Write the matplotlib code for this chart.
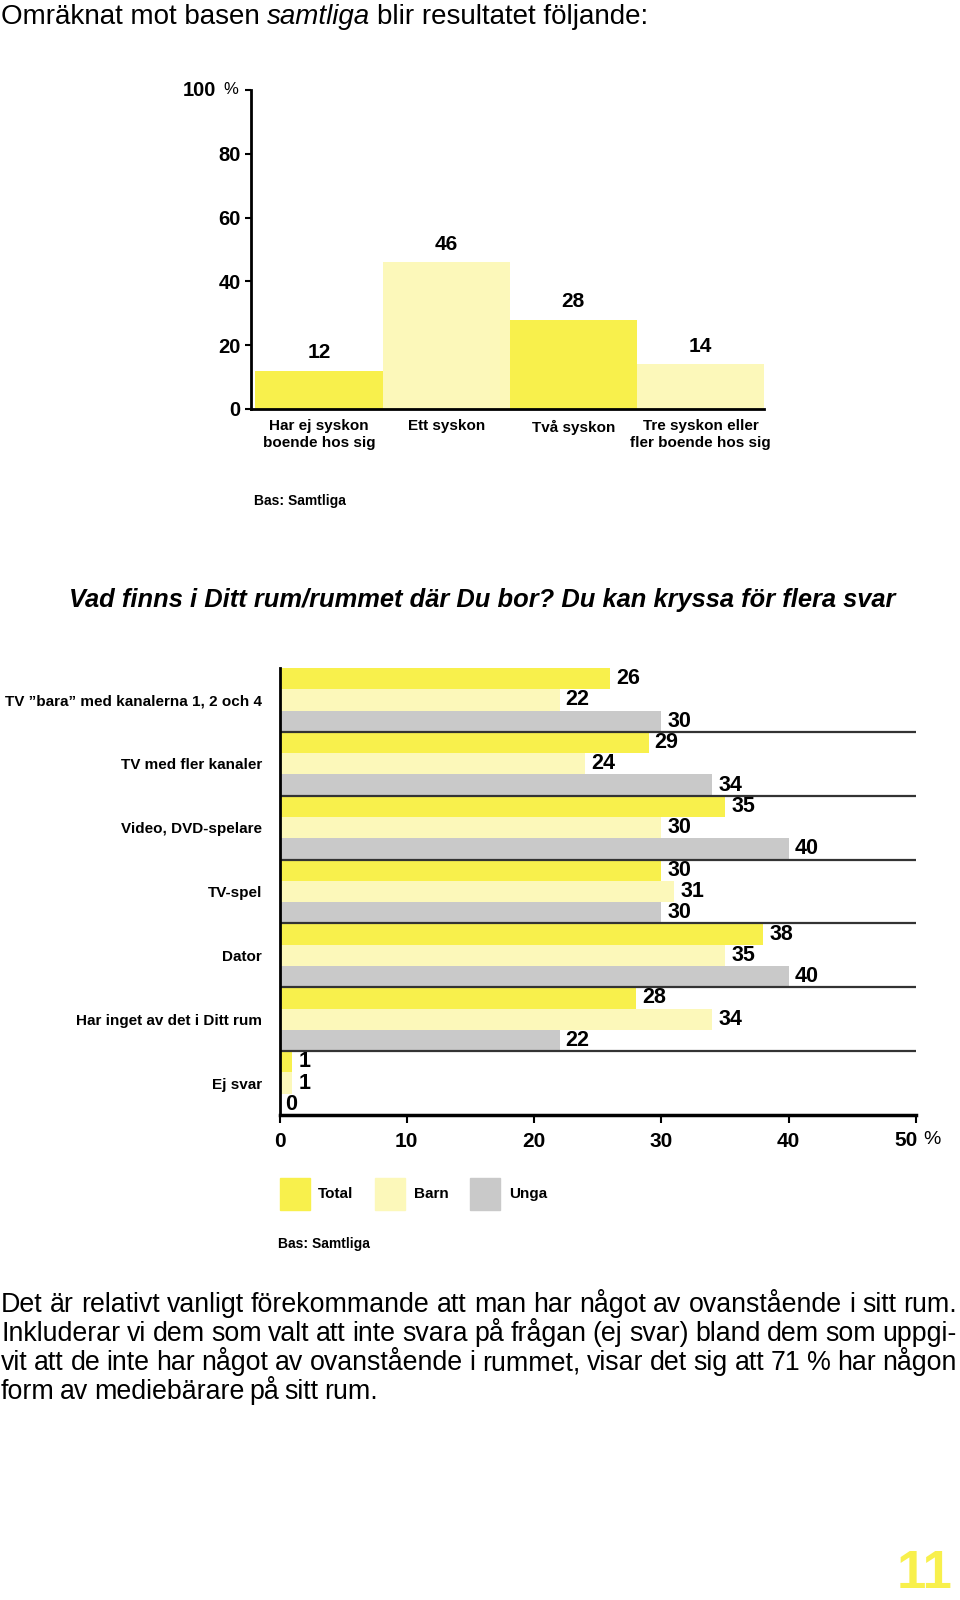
import matplotlib
matplotlib.use('Agg')
import matplotlib.pyplot as plt
from matplotlib.patches import Rectangle
from matplotlib.transforms import offset_copy

plt.rcParams['font.family'] = ['Liberation Sans', 'DejaVu Sans']

# --- data -------------------------------------------------------------
sib_labels = ['Har ej syskon\nboende hos sig', 'Ett syskon', 'Två syskon',
              'Tre syskon eller\nfler boende hos sig']
sib_values = [12, 46, 28, 14]
sib_ticks = [0, 20, 40, 60, 80, 100]

items = ['TV ”bara” med kanalerna 1, 2 och 4', 'TV med fler kanaler',
         'Video, DVD-spelare', 'TV-spel', 'Dator',
         'Har inget av det i Ditt rum', 'Ej svar']
total = [26, 29, 35, 30, 38, 28, 1]
barn = [22, 24, 30, 31, 35, 34, 1]
unga = [30, 34, 40, 30, 40, 22, 0]
series_names = ['Total', 'Barn', 'Unga']
room_ticks = [0, 10, 20, 30, 40, 50]

header = ['Omräknat mot basen', 'samtliga', 'blir resultatet följande:']
question = 'Vad finns i Ditt rum/rummet där Du bor? Du kan kryssa för flera svar'
base_note = 'Bas: Samtliga'
body_lines = [
    'Det är relativt vanligt förekommande att man har något av ovanstående i sitt rum.',
    'Inkluderar vi dem som valt att inte svara på frågan (ej svar) bland dem som uppgi-',
    'vit att de inte har något av ovanstående i rummet, visar det sig att 71 % har någon',
    'form av mediebärare på sitt rum.',
]
page_no = '11'

YELLOW = '#F8F04C'
PALE = '#FCF8BA'
GREY = '#C9C9C9'
colors = [YELLOW, PALE, GREY]

W, H = 960, 1600
fig = plt.figure(figsize=(9.6, 16), dpi=100)
renderer = fig.canvas.get_renderer()


def rect(l, t, r, b):
    return [l / W, 1 - b / H, (r - l) / W, (b - t) / H]


def ftext(x, y, s, **kw):
    return fig.text(x / W, 1 - y / H, s, **kw)


def width_px(t):
    return t.get_window_extent(renderer).width


# --- header line with italic word ---------------------------------------
hx = 1
for i, part in enumerate(header):
    t = ftext(hx, 24, part, fontsize=20, va='baseline',
              style='italic' if i == 1 else 'normal')
    hx = t.get_window_extent(renderer).x1 + 7

# --- top chart: siblings ------------------------------------------------
ax1 = fig.add_axes(rect(251, 90, 764, 409))
ax1.bar(range(4), sib_values, width=1, align='edge',
        color=[YELLOW, PALE, YELLOW, PALE])
ax1.set_xlim(-0.035, 4)
ax1.set_ylim(0, 100)
for s in ['top', 'right']:
    ax1.spines[s].set_visible(False)
for s in ['left', 'bottom']:
    ax1.spines[s].set_linewidth(2)
    ax1.spines[s].set_color('black')
ax1.set_yticks(sib_ticks)
ax1.set_yticklabels([str(v) for v in sib_ticks[:-1]] + [''])
ax1.tick_params(axis='y', length=4.5, width=1.5, pad=3, labelsize=14.5)
for lab in ax1.get_yticklabels():
    lab.set_fontweight('bold')
ytr = ax1.get_yaxis_transform()
ax1.text(0, 100, str(sib_ticks[-1]), ha='right', va='center', fontsize=14.5,
         fontweight='bold', transform=offset_copy(ytr, fig=fig, x=-35, y=0, units='dots'))
ax1.text(0, 100, '%', ha='right', va='center', fontsize=12,
         transform=offset_copy(ytr, fig=fig, x=-13, y=0, units='dots'))
ax1.set_xticks([i + 0.5 for i in range(4)])
ax1.set_xticklabels(sib_labels, fontsize=11, fontweight='bold', linespacing=1.25)
ax1.tick_params(axis='x', length=0, pad=7.5)
for i, v in enumerate(sib_values):
    ax1.annotate(str(v), (i + 0.5, v), xytext=(0, 18), textcoords='offset pixels',
                 ha='center', va='center', fontsize=15, fontweight='bold')

ftext(254, 501, base_note, fontsize=10, fontweight='bold', va='center')

ftext(482, 600, question, ha='center', va='center', fontsize=18.4,
      fontweight='bold', style='italic')

# --- horizontal chart: media in room -------------------------------------
ax2 = fig.add_axes(rect(279.5, 668, 916, 1115))
n = len(items)
for k, (vals, col, name) in enumerate(zip([total, barn, unga], colors, series_names)):
    ys = [3 * g + k + 0.5 for g in range(n)]
    ax2.barh(ys, vals, height=1, color=col, label=name)
    for y, v in zip(ys, vals):
        ax2.annotate(str(v), (v, y), xytext=(6, 0), textcoords='offset pixels',
                     ha='left', va='center', fontsize=15.5, fontweight='bold')
ax2.hlines([3 * g + 3 for g in range(n - 1)], 0, 50, color='#333333', lw=1.6)
ax2.set_xlim(0, 50)
ax2.set_ylim(3 * n, 0)
for s in ['top', 'right']:
    ax2.spines[s].set_visible(False)
ax2.spines['left'].set_linewidth(2)
ax2.spines['bottom'].set_linewidth(2.5)
ax2.set_yticks([3 * g + 1.5 for g in range(n)])
ax2.set_yticklabels(items, fontsize=11, fontweight='bold')
ax2.tick_params(axis='y', length=0, pad=12.5)
ax2.set_xticks(room_ticks)
ax2.set_xticklabels([str(v) for v in room_ticks[:-1]] + [''], fontsize=15, fontweight='bold')
ax2.tick_params(axis='x', length=6, width=1.5, pad=6)
# last tick reads "50 %", centred as a whole under the tick
ftext(918, 1140, str(room_ticks[-1]), ha='right', va='center', fontsize=15, fontweight='bold')
ftext(923, 1140, '%', ha='left', va='center', fontsize=14)

# legend
for name, col, (x0, tx) in zip(series_names, colors, [(279.5, 318), (374.5, 414), (470, 509)]):
    fig.add_artist(Rectangle((x0 / W, 1 - 1210 / H), 30 / W, 32 / H,
                             transform=fig.transFigure, color=col))
    ftext(tx, 1194, name, fontsize=11, fontweight='bold', va='center')

ftext(278.5, 1244, base_note, fontsize=10, fontweight='bold', va='center')

# --- body text (justified) ------------------------------------------------
left, right = 1, 957
for li, (y, line) in enumerate(zip([1311.5, 1341, 1370, 1399], body_lines)):
    words = line.split(' ')
    arts = [ftext(0, y, w, fontsize=19.3, va='baseline') for w in words]
    widths = [width_px(a) for a in arts]
    if li < len(body_lines) - 1:
        gap = (right - left - sum(widths)) / (len(words) - 1)
    else:
        gap = 5.4
    x = left
    for a, w in zip(arts, widths):
        a.set_x(x / W)
        x += w + gap

ftext(953, 1599, page_no, ha='right', va='bottom', fontsize=38,
      fontweight='bold', color=YELLOW)

fig.savefig('out.png', dpi=100)
